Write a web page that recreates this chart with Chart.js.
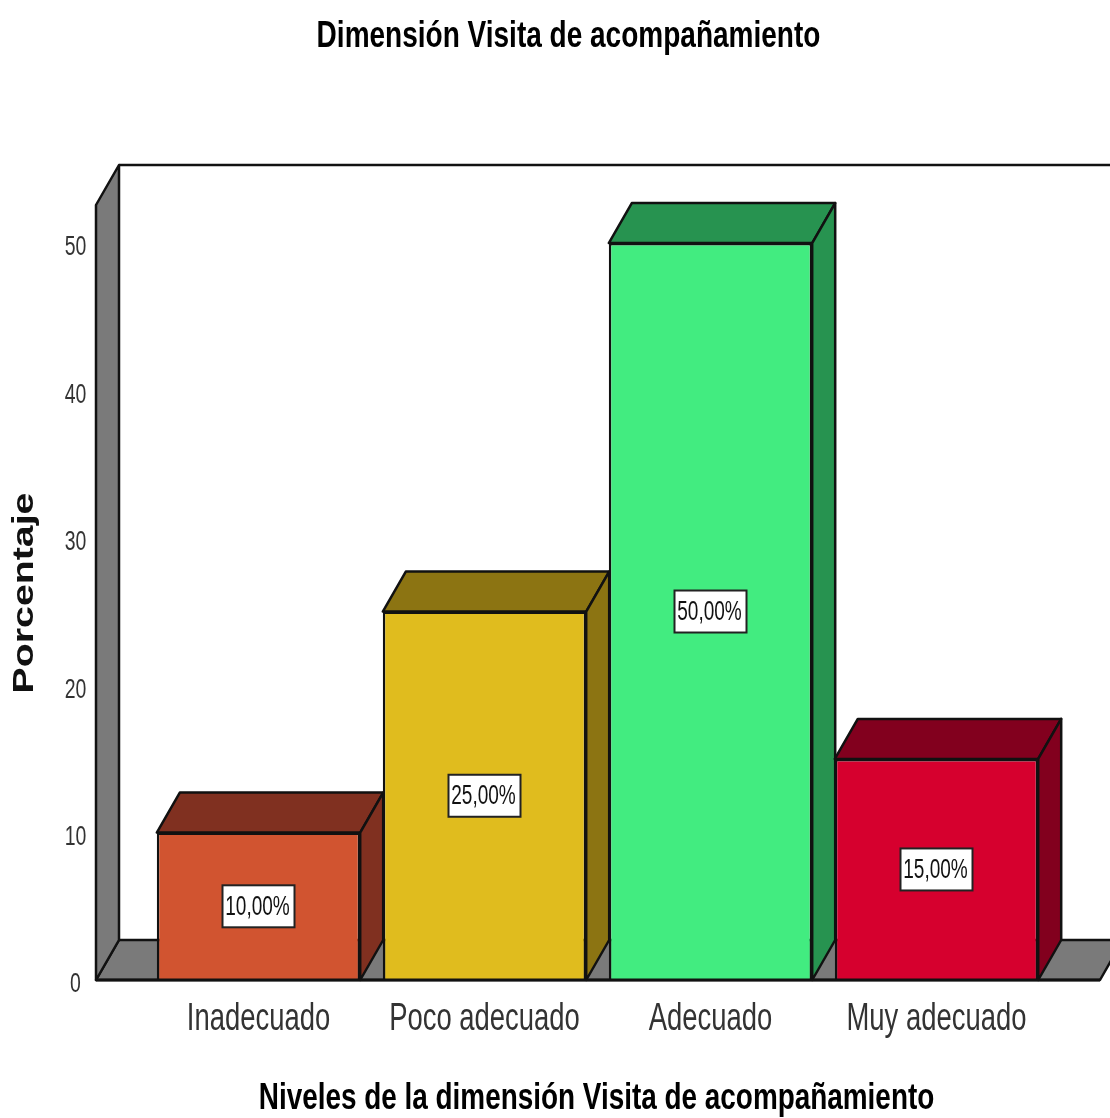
<!DOCTYPE html>
<html>
<head>
<meta charset="utf-8">
<title>Dimensión Visita de acompañamiento</title>
<script src="https://cdn.jsdelivr.net/npm/chart.js@4"></script>
<style>
html, body { margin: 0; padding: 0; background: #fff; }
#wrap { width: 1110px; height: 1118px; overflow: hidden; }
#grafico { filter: blur(0.6px); }
</style>
</head>
<body>
<div id="wrap"><canvas id="grafico" width="1110" height="1118"></canvas></div>
<script>
const titulo = 'Dimensión Visita de acompañamiento';
const tituloX = 'Niveles de la dimensión Visita de acompañamiento';
const tituloY = 'Porcentaje';
const categorias = ['Inadecuado', 'Poco adecuado', 'Adecuado', 'Muy adecuado'];
const porcentajes = [10, 25, 50, 15];
const etiquetas = ['10,00%', '25,00%', '50,00%', '15,00%'];
const coresFrente = ['#D15430', '#E0BC1E', '#42EC80', '#D6002E'];
const coresLado = ['#803020', '#8C7412', '#279350', '#82001E'];

const DX = 23, DY = -40;
const FONTE = '"Liberation Sans", Arial, sans-serif';

function poligono(ctx, pts, cor) {
    ctx.beginPath();
    ctx.moveTo(pts[0][0], pts[0][1]);
    for (let i = 1; i < pts.length; i++) ctx.lineTo(pts[i][0], pts[i][1]);
    ctx.closePath();
    ctx.fillStyle = cor;
    ctx.fill();
    ctx.stroke();
}

// texto espremido na horizontal, o original esta esticado
function texto(ctx, str, x, y, fonte, sx, cor, angulo) {
    ctx.save();
    ctx.translate(x, y);
    if (angulo) ctx.rotate(angulo);
    ctx.scale(sx, 1);
    ctx.font = fonte;
    ctx.fillStyle = cor;
    ctx.textAlign = 'center';
    ctx.textBaseline = 'middle';
    ctx.fillText(str, 0, 0);
    ctx.restore();
}

// paredes e chao em perspectiva, a partir da area do grafico
const paredes = {
    id: 'paredes',
    beforeDatasetsDraw(chart) {
        const ctx = chart.ctx, y = chart.scales.y;
        const base = y.getPixelForValue(0), topo = y.getPixelForValue(y.max);
        const esq = 96, dir = 1100;
        ctx.save();
        ctx.strokeStyle = '#111';
        ctx.lineWidth = 2.5;
        ctx.lineJoin = 'round';
        poligono(ctx, [[esq, base], [esq + DX, base + DY], [dir + DX, base + DY], [dir, base]], '#7A7A7A');
        poligono(ctx, [[esq, topo], [esq + DX, topo + DY], [esq + DX, base + DY], [esq, base]], '#7A7A7A');
        ctx.beginPath();
        ctx.moveTo(esq + DX, topo + DY);
        ctx.lineTo(1110, topo + DY);
        ctx.stroke();
        ctx.restore();
    }
};

// lados e topo de cada barra; os rotulos vao por cima
const barras3d = {
    id: 'barras3d',
    beforeDatasetsDraw(chart) {
        const ctx = chart.ctx;
        ctx.save();
        ctx.strokeStyle = '#111';
        ctx.lineWidth = 2.5;
        ctx.lineJoin = 'round';
        chart.getDatasetMeta(0).data.forEach(function (bar, i) {
            const e = bar.x - bar.width / 2, d = bar.x + bar.width / 2;
            poligono(ctx, [[e, bar.y], [e + DX, bar.y + DY], [d + DX, bar.y + DY], [d, bar.y]], coresLado[i]);
            poligono(ctx, [[d, bar.y], [d + DX, bar.y + DY], [d + DX, bar.base + DY], [d, bar.base]], coresLado[i]);
        });
        ctx.restore();
    },
    afterDatasetsDraw(chart) {
        const ctx = chart.ctx, y = chart.scales.y;
        const base = y.getPixelForValue(0);
        ctx.save();
        ctx.strokeStyle = '#111';
        ctx.lineWidth = 3;
        ctx.beginPath();
        ctx.moveTo(96, base);
        ctx.lineTo(1100, base);
        ctx.stroke();
        chart.getDatasetMeta(0).data.forEach(function (bar, i) {
            const cy = y.getPixelForValue(porcentajes[i] / 2);
            ctx.fillStyle = '#fff';
            ctx.strokeStyle = '#222';
            ctx.lineWidth = 2;
            ctx.fillRect(bar.x - 36, cy - 21, 72, 42);
            ctx.strokeRect(bar.x - 36, cy - 21, 72, 42);
            texto(ctx, etiquetas[i], bar.x - 1, cy + 1, '27px ' + FONTE, 0.705, '#111');
        });
        ctx.restore();
    }
};

// rotulos dos eixos e titulos com a escala horizontal do original
const textos = {
    id: 'textos',
    afterDraw(chart) {
        const ctx = chart.ctx, sx = chart.scales.x, sy = chart.scales.y;
        sx.ticks.forEach(function (t, i) {
            texto(ctx, t.label, sx.getPixelForTick(i), 1020, '38px ' + FONTE, 0.722, '#333');
        });
        sy.ticks.forEach(function (t, i) {
            texto(ctx, t.label, 75.5, sy.getPixelForTick(i) + 5, '27px ' + FONTE, 0.72, '#333');
        });
        texto(ctx, titulo, 568.5, 37, 'bold 36px ' + FONTE, 0.778, '#000');
        texto(ctx, tituloX, 596.5, 1099, 'bold 36px ' + FONTE, 0.775, '#000');
        texto(ctx, tituloY, 25, 593, 'bold 30px ' + FONTE, 1.31, '#111', -Math.PI / 2);
    }
};

new Chart(document.getElementById('grafico').getContext('2d'), {
    type: 'bar',
    data: {
        labels: categorias,
        datasets: [{
            data: porcentajes,
            backgroundColor: coresFrente,
            borderColor: '#111',
            borderWidth: 2.5,
            barPercentage: 0.9,
            categoryPercentage: 1
        }]
    },
    plugins: [paredes, barras3d, textos],
    options: {
        responsive: false,
        animation: false,
        layout: { padding: { top: 205, right: 60.5, bottom: 0, left: 0 } },
        plugins: {
            legend: { display: false },
            tooltip: { enabled: false },
            title: { display: false }
        },
        scales: {
            x: {
                afterFit: function (scale) { scale.height = 138; },
                grid: { display: false, drawTicks: false },
                border: { display: false },
                ticks: { display: false, autoSkip: false, maxRotation: 0 }
            },
            y: {
                min: 0,
                max: 52.58,
                afterFit: function (scale) { scale.width = 145.5; },
                grid: { display: false, drawTicks: false },
                border: { display: false },
                afterBuildTicks: function (scale) {
                    scale.ticks = scale.ticks.filter(function (t) { return t.value % 10 === 0; });
                },
                ticks: { display: false, stepSize: 10 }
            }
        }
    }
});
</script>
</body>
</html>
